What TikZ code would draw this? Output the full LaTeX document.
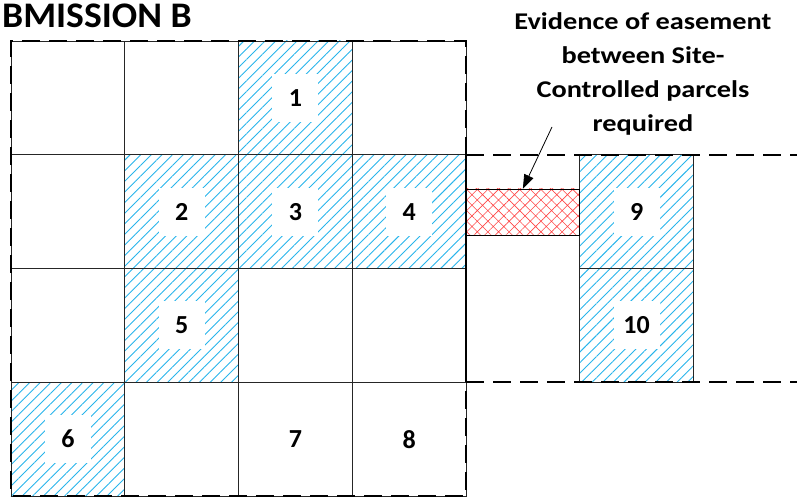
\documentclass[tikz,border=0pt]{standalone}
\usepackage{fontspec}
\setmainfont{Carlito}
\newfontfamily\titlefont[FakeStretch=1.045]{Carlito}
\newfontfamily\notefont[FakeStretch=1.18]{Carlito}
\usetikzlibrary{patterns.meta,arrows.meta}

\definecolor{hatchblue}{RGB}{40,180,235}
\definecolor{crossred}{RGB}{255,70,70}

\tikzset{
  parcel/.style={draw=black!85,line width=0.8pt},
  sited/.style={parcel,pattern={Lines[angle=45,distance=7.5pt,line width=0.9pt]},pattern color=hatchblue},
  siteline/.style={line width=2pt,dash pattern=on 18pt off 9pt},
  numbox/.style={fill=white,minimum width=46pt,minimum height=48pt,inner sep=0pt,font=\bfseries\fontsize{26}{30}\selectfont},
}

\begin{document}
\begin{tikzpicture}[x=113.75pt,y=-113.75pt]
\useasboundingbox (-0.0967,-0.3604) rectangle (6.9099,4.0088);
% parcels
\foreach \x in {0,...,3} \foreach \y in {0,...,3} \draw[parcel] (\x,\y) rectangle +(1,1);
\foreach \x/\y in {2/0,1/1,2/1,3/1,1/2,0/3,5/1,5/2} \draw[sited] (\x,\y) rectangle +(1,1);
% easement
\node (ease) [draw,line width=0.8pt,pattern={Hatch[angle=45,distance=7.5pt,line width=0.6pt]},pattern color=crossred,
  minimum width=113.75pt,minimum height=46pt,inner sep=0pt] at (4.5,1.503) {};
% parcel numbers
\foreach \n/\x/\y in {1/2/0,2/1/1,3/2/1,4/3/1,5/1/2,6/0/3,7/2/3,8/3/3,9/5/1,10/5/2}
  \node[numbox] (p\n) at (\x+0.5,\y+0.5) {\n};
% site boundaries
\draw[siteline] (4,1) -- (4,0) -- (0,0) -- (0,4) -- (4,4) -- (4,3);
\draw[siteline] (4,1) -- (6.91,1);
\draw[siteline] (4,3) -- (6.91,3);
\draw[line width=1.6pt] (4,1) -- (4,3);
% labels
\node[anchor=base west,inner sep=0pt,font=\titlefont\bfseries\fontsize{36}{40}\selectfont] (title) at (-0.079,-0.123) {BMISSION B};
\node[align=center,anchor=north,inner sep=0pt,font=\notefont\bfseries\fontsize{24}{34}\selectfont] (note) at (5.556,-0.255)
  {Evidence of easement\\between Site-\\Controlled parcels\\required};
\coordinate (tail) at (4.756,0.756);
\draw[-{Triangle[length=14pt,width=10pt]},line width=0.8pt] (tail) -- (ease.north);
\end{tikzpicture}
\end{document}
